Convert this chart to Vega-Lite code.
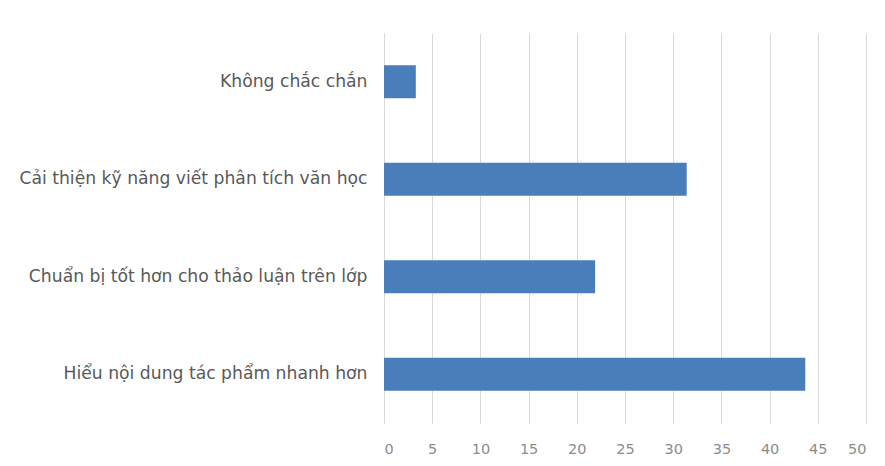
{
  "$schema": "https://vega.github.io/schema/vega-lite/v6.json",
  "autosize": {"type": "none"},
  "width": 482,
  "height": 390,
  "padding": {"left": 384, "top": 33, "right": 19, "bottom": 43},
  "background": "white",
  "data": {
    "values": [
      {"category": "Không chắc chắn", "value": 3.3},
      {"category": "Cải thiện kỹ năng viết phân tích văn học", "value": 31.4},
      {"category": "Chuẩn bị tốt hơn cho thảo luận trên lớp", "value": 21.9},
      {"category": "Hiểu nội dung tác phẩm nhanh hơn", "value": 43.7}
    ]
  },
  "mark": {"type": "bar", "color": "#4a7ebb"},
  "encoding": {
    "y": {
      "field": "category",
      "type": "nominal",
      "sort": null,
      "scale": {"paddingInner": 0.66, "paddingOuter": 0.33},
      "axis": {
        "title": null,
        "ticks": false,
        "domainColor": "#d9d9d9",
        "labelFont": "DejaVu Sans",
        "labelFontSize": 17.2,
        "labelColor": "#595959",
        "labelPadding": 17,
        "labelLimit": 400
      }
    },
    "x": {
      "field": "value",
      "type": "quantitative",
      "scale": {"domain": [0, 50], "nice": false},
      "axis": {
        "title": null,
        "values": [0, 5, 10, 15, 20, 25, 30, 35, 40, 45, 50],
        "grid": true,
        "gridColor": "#d9d9d9",
        "domain": false,
        "ticks": false,
        "labelFont": "DejaVu Sans",
        "labelFontSize": 14.5,
        "labelColor": "#8c8c8c",
        "labelPadding": 19
      }
    }
  },
  "config": {"view": {"stroke": null}}
}
